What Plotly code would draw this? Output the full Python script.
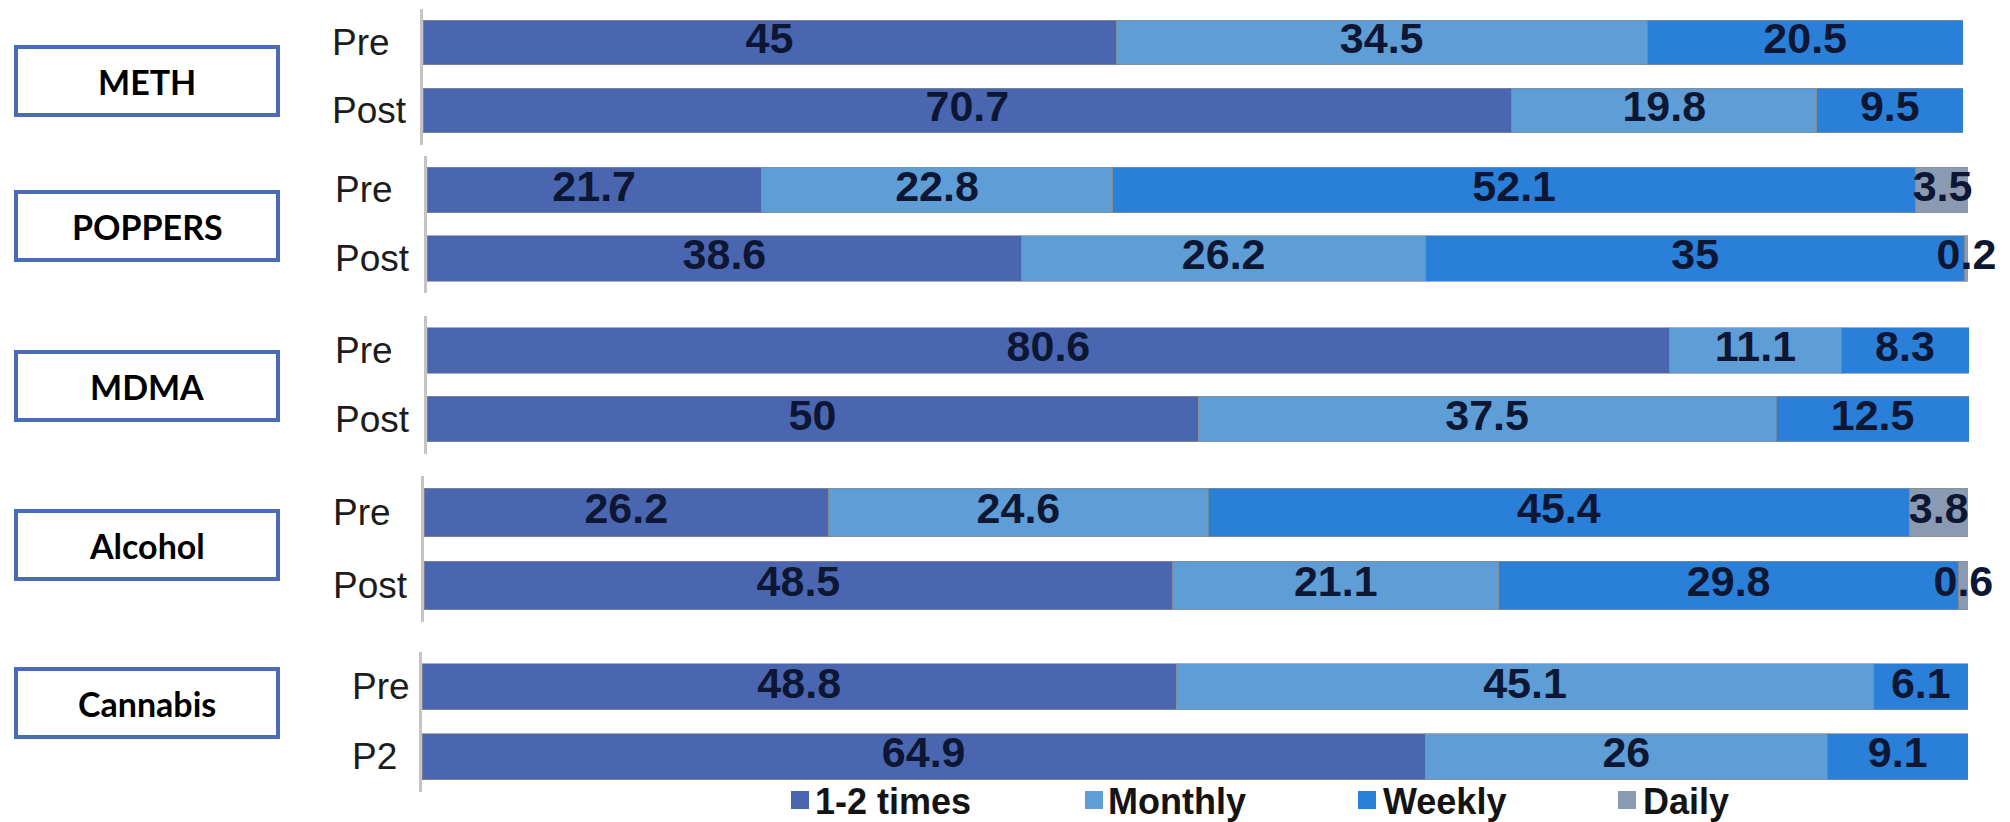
import plotly.graph_objects as go

# ---------------- data ----------------
drugs = ["METH", "POPPERS", "MDMA", "Alcohol", "Cannabis"]
periods = [["Pre", "Post"], ["Pre", "Post"], ["Pre", "Post"], ["Pre", "Post"], ["Pre", "P2"]]
series_names = ["1-2 times", "Monthly", "Weekly", "Daily"]
once_twice = [[45, 70.7], [21.7, 38.6], [80.6, 50], [26.2, 48.5], [48.8, 64.9]]
monthly = [[34.5, 19.8], [22.8, 26.2], [11.1, 37.5], [24.6, 21.1], [45.1, 26]]
weekly = [[20.5, 9.5], [52.1, 35], [8.3, 12.5], [45.4, 29.8], [6.1, 9.1]]
daily = [[None, None], [3.5, 0.2], [None, None], [3.8, 0.6], [None, None]]

# ---------------- style ----------------
colors = ["#4a66b0", "#5f9dd6", "#2a7fd8", "#8a9ab3"]
W, H = 2010, 822
# panel pixel layout: left, right, top, bottom
panels = [(423, 1963, 8.5, 144.5), (427, 1968, 155.75, 292.75), (427, 1969, 316, 453.5),
          (424, 1968, 476, 622), (422, 1968, 652, 791.5)]
label_left = [330, 333, 333, 331, 350]
boxes = [(47, 115), (192, 260), (352, 420), (511, 579), (669, 737)]
legend_marker_x = [791, 1085, 1358, 1618]
legend_text_x = [813, 1106, 1381, 1641]

LABEL_FONT = "Liberation Sans, Arial"


def px(x):
    return x / W


def py(y):
    return 1 - y / H


all_series = [once_twice, monthly, weekly, daily]
fig = go.Figure()
annotations = []
shapes = []

for i, drug in enumerate(drugs):
    xa = "x" if i == 0 else f"x{i+1}"
    ya = "y" if i == 0 else f"y{i+1}"
    cats = periods[i]
    base = [0.0 for _ in cats]
    for s, name in enumerate(series_names):
        vals = all_series[s][i]
        xv = [v if v is not None else 0 for v in vals]
        fig.add_trace(go.Bar(
            x=xv, y=cats, orientation="h", name=name,
            marker=dict(color=colors[s], line=dict(color="rgba(140,140,140,0.7)", width=1)),
            xaxis=xa, yaxis=ya, showlegend=False, hoverinfo="skip",
        ))
        mids, txt, ys = [], [], []
        for k, v in enumerate(vals):
            if v is not None:
                mids.append(base[k] + v / 2)
                txt.append(f"{v:g}")
                ys.append(cats[k])
            base[k] += (v or 0)
        fig.add_trace(go.Scatter(
            x=mids, y=ys, mode="text", text=txt, textposition="middle center",
            textfont=dict(family=LABEL_FONT, size=43, color="#0d1733", weight="bold"),
            xaxis=xa, yaxis=ya, showlegend=False, hoverinfo="skip", cliponaxis=False,
        ))

    l, r, t, b = panels[i]
    key = "" if i == 0 else str(i + 1)
    fig.update_layout(**{
        f"xaxis{key}": dict(domain=[px(l), px(r)], range=[0, 100], visible=False,
                            anchor=ya, fixedrange=True),
        f"yaxis{key}": dict(domain=[py(b), py(t)], type="category",
                            categoryorder="array", categoryarray=cats,
                            range=[1.5, -0.5], showline=True, linecolor="#c4c4c4",
                            linewidth=3, showticklabels=False, ticks="",
                            showgrid=False, zeroline=False, anchor=xa, fixedrange=True),
    })

    for c in cats:
        annotations.append(dict(
            x=px(label_left[i]), xref="paper", xanchor="left",
            y=c, yref=ya, yanchor="middle", showarrow=False, text=c,
            font=dict(family="Liberation Sans, Arial", size=37, color="#1c1c1c"),
        ))

    bt, bb = boxes[i]
    shapes.append(dict(type="rect", xref="paper", yref="paper",
                       x0=px(16), x1=px(278), y0=py(bb), y1=py(bt),
                       line=dict(color="#4a6bb6", width=4), fillcolor="white"))
    annotations.append(dict(
        x=px(147), y=py((bt + bb) / 2), xref="paper", yref="paper",
        xanchor="center", yanchor="middle", showarrow=False, text=drug,
        font=dict(family="Lato, Open Sans", size=34, color="black", weight="bold"),
    ))

# legend (manual, matching the reference layout)
for s, name in enumerate(series_names):
    shapes.append(dict(type="rect", xref="paper", yref="paper",
                       x0=px(legend_marker_x[s]), x1=px(legend_marker_x[s] + 18),
                       y0=py(809), y1=py(791), line=dict(width=0), fillcolor=colors[s]))
    annotations.append(dict(
        x=px(legend_text_x[s]), y=py(801), xref="paper", yref="paper",
        xanchor="left", yanchor="middle", showarrow=False, text=name,
        font=dict(family=LABEL_FONT, size=36, color="#141414", weight="bold"),
    ))

fig.update_layout(
    width=W, height=H, margin=dict(l=0, r=0, t=0, b=0),
    barmode="stack", bargap=0.34,
    paper_bgcolor="white", plot_bgcolor="white",
    showlegend=False, annotations=annotations, shapes=shapes,
)

fig.write_html("out.html", config={"displayModeBar": False})
